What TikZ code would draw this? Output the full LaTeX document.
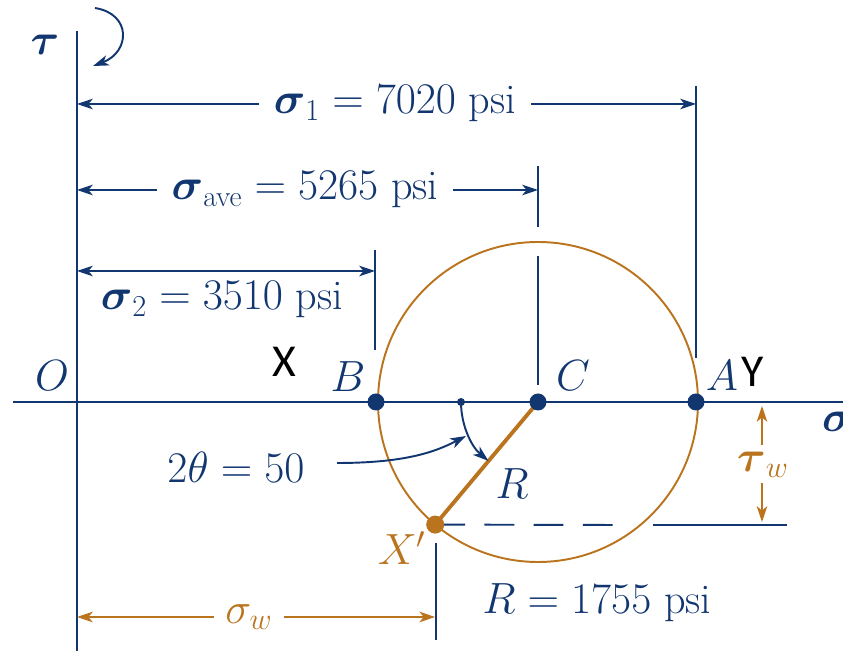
\documentclass[tikz,border=0pt]{standalone}
\usepackage{amsmath,amssymb}
\usepackage{fontspec}
\newfontfamily\sanslabel{Carlito}
\usetikzlibrary{arrows.meta,positioning}
\definecolor{mohrblue}{RGB}{18,54,112}
\definecolor{mohrbrown}{RGB}{186,116,30}

\begin{document}
\begin{tikzpicture}[x=0.02cm, y=-0.02cm, line width=1.1pt, color=mohrblue,
  every node/.style={font=\fontsize{24}{28}\selectfont, inner sep=2pt},
  dimtext/.style={inner xsep=8pt, inner ysep=2pt},
  tip/.style={-{Stealth[length=9pt,width=6pt,inset=2.5pt]}},
  bothtips/.style={{Stealth[length=9pt,width=6pt,inset=2.5pt]}-{Stealth[length=9pt,width=6pt,inset=2.5pt]}}]
\useasboundingbox (0,0) rectangle (843,651);

\coordinate (O) at (77,402);
\coordinate (B) at (376,402);
\coordinate (C) at (538,402);
\coordinate (A) at (696,402);
\coordinate (D) at (461,402);
\coordinate (Xp) at (435.2,524.6);

\coordinate (tautop) at (77,31);
\coordinate (taubot) at (77,651);
\coordinate (sigleft) at (13,402);
\coordinate (sigright) at (843,402);
\draw (tautop) -- (taubot);
\draw (sigleft) -- (sigright);

\node (taulbl) at (45,45) {$\boldsymbol{\tau}$};
\node (siglbl) at (838,422) {$\boldsymbol{\sigma}$};
\node (Olbl) at (52,376) {$O$};
\node (Blbl) at (348,377) {$B$};
\node (Clbl) at (573,376) {$C$};
\node (Albl) at (722,376) {$A$};
\node[text=black, font=\sanslabel\fontsize{26}{30}\selectfont] (Xlbl) at (284,362) {X};
\node[text=black, font=\sanslabel\fontsize{26}{30}\selectfont] (Ylbl) at (753,372) {Y};

\coordinate (rotstart) at (95,8);
\coordinate (rotend) at (93,66);
\draw[tip] (rotstart) .. controls (132,14) and (130,52) .. (rotend);

\node[dimtext] (s1) at (395,104) {$\boldsymbol{\sigma}_1 = 7020$ psi};
\draw[tip] (s1.west) -- (s1.west -| O);
\draw[tip] (s1.east) -- (s1.east -| A);
\coordinate (Atop) at (696,86);
\coordinate (Abot) at (696,358);
\draw (Atop) -- (Abot);

\node[dimtext] (save) at (305,190) {$\boldsymbol{\sigma}_{\text{ave}} = 5265$ psi};
\draw[tip] (save.west) -- (save.west -| O);
\draw[tip] (save.east) -- (save.east -| C);
\coordinate (Ctop) at (538,166);
\coordinate (Cgap1) at (538,227);
\coordinate (Cgap2) at (538,256);
\coordinate (Cbot) at (538,385);
\draw (Ctop) -- (Cgap1);
\draw (Cgap2) -- (Cbot);

\coordinate (s2left) at (77,271);
\coordinate (s2right) at (375,271);
\draw[bothtips] (s2left) -- (s2right);
\node (s2) at (222,300) {$\boldsymbol{\sigma}_2 = 3510$ psi};
\coordinate (Btop) at (375,250);
\coordinate (Bbot) at (375,350);
\draw (Btop) -- (Bbot);

\draw[mohrbrown] (C) circle[radius=160];
\draw[mohrbrown, line width=2.2pt] (C) -- (Xp);

\coordinate (dashend) at (618,525);
\coordinate (reflstart) at (653,525);
\coordinate (reflend) at (787,525);
\draw[dash pattern=on 17pt off 11pt] (Xp) -- (dashend);
\draw (reflstart) -- (reflend);

\draw[tip] (D) arc[start angle=180, end angle=130, radius=77];
\node (ang) at (236,467) {$2\theta = 50$};
\coordinate (angtail) at (337,463);
\coordinate (arcmid) at (466,436);
\draw[tip] (angtail) .. controls (405,463) and (435,452) .. (arcmid);
\node (Rlbl) at (512,484) {$R$};

\fill (B) circle[radius=8.5];
\fill (C) circle[radius=8.5];
\fill (A) circle[radius=8.5];
\fill (D) circle[radius=4];
\fill[mohrbrown] (Xp) circle[radius=9];
\node[text=mohrbrown] (Xplbl) at (402,548) {$X'$};

\coordinate (twtop) at (762,445);
\coordinate (twtoptip) at (762,406);
\coordinate (twbot) at (762,483);
\coordinate (twbottip) at (762,522);
\draw[tip, mohrbrown] (twtop) -- (twtoptip);
\draw[tip, mohrbrown] (twbot) -- (twbottip);
\node[text=mohrbrown] (twlbl) at (763,465) {$\boldsymbol{\tau}_w$};

\coordinate (Xptop) at (436,543);
\coordinate (Xpbot) at (436,640);
\draw (Xptop) -- (Xpbot);
\node[text=mohrbrown, inner xsep=6pt] (sw) at (249,617) {$\sigma_w$};
\draw[tip, mohrbrown] (sw.west) -- (sw.west -| O);
\draw[tip, mohrbrown] (sw.east) -- (sw.east -| Xp);

\node (Rval) at (597,603) {$R = 1755$ psi};
\end{tikzpicture}
\end{document}
